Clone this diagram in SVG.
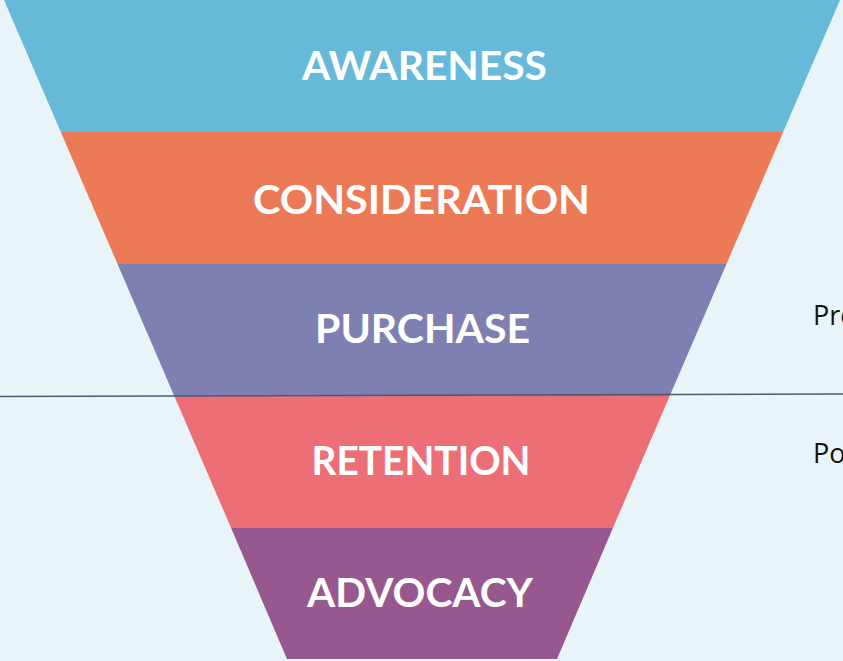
<svg xmlns="http://www.w3.org/2000/svg" width="843" height="661" viewBox="0 0 843 661">
  <style>
    .lbl { font-family: Lato, "Liberation Sans", sans-serif; font-weight: 700; font-size: 41px; fill: #ffffff; text-anchor: middle; }
    .side { font-family: "Open Sans", "Liberation Sans", sans-serif; font-size: 27px; fill: #111111; }
  </style>
  <rect x="0" y="0" width="843" height="661" fill="#e8f4f7"/>
  <g id="awareness">
    <polygon points="4,0 840,0 783.2,132 60.8,132" fill="#66b9d8"/>
    <text class="lbl" x="424.5" y="80" textLength="245" lengthAdjust="spacingAndGlyphs">AWARENESS</text>
  </g>
  <g id="consideration">
    <polygon points="60.8,132 783.2,132 726.5,264 117.5,264" fill="#ec7a56"/>
    <text class="lbl" x="421.5" y="214" textLength="337" lengthAdjust="spacingAndGlyphs">CONSIDERATION</text>
  </g>
  <g id="purchase">
    <polygon points="117.5,264 726.5,264 669.7,396 174.3,396" fill="#7f80b2"/>
    <text class="lbl" x="422.5" y="343" textLength="215" lengthAdjust="spacingAndGlyphs">PURCHASE</text>
  </g>
  <g id="retention">
    <polygon points="174.3,396 669.7,396 612.9,528 231.1,528" fill="#ec6f78"/>
    <text class="lbl" x="421" y="475" textLength="219" lengthAdjust="spacingAndGlyphs">RETENTION</text>
  </g>
  <g id="advocacy">
    <polygon points="231.1,528 612.9,528 557,659 287,659" fill="#97578f"/>
    <text class="lbl" x="420" y="607" textLength="226" lengthAdjust="spacingAndGlyphs">ADVOCACY</text>
  </g>
  <g id="connectors">
    <line x1="0" y1="396.5" x2="843" y2="394" stroke="#4b5a72" stroke-width="1.5"/>
  </g>
  <g id="pre">
    <text class="side" x="813" y="325">Pre</text>
  </g>
  <g id="post">
    <text class="side" x="813" y="463">Po</text>
  </g>
</svg>
